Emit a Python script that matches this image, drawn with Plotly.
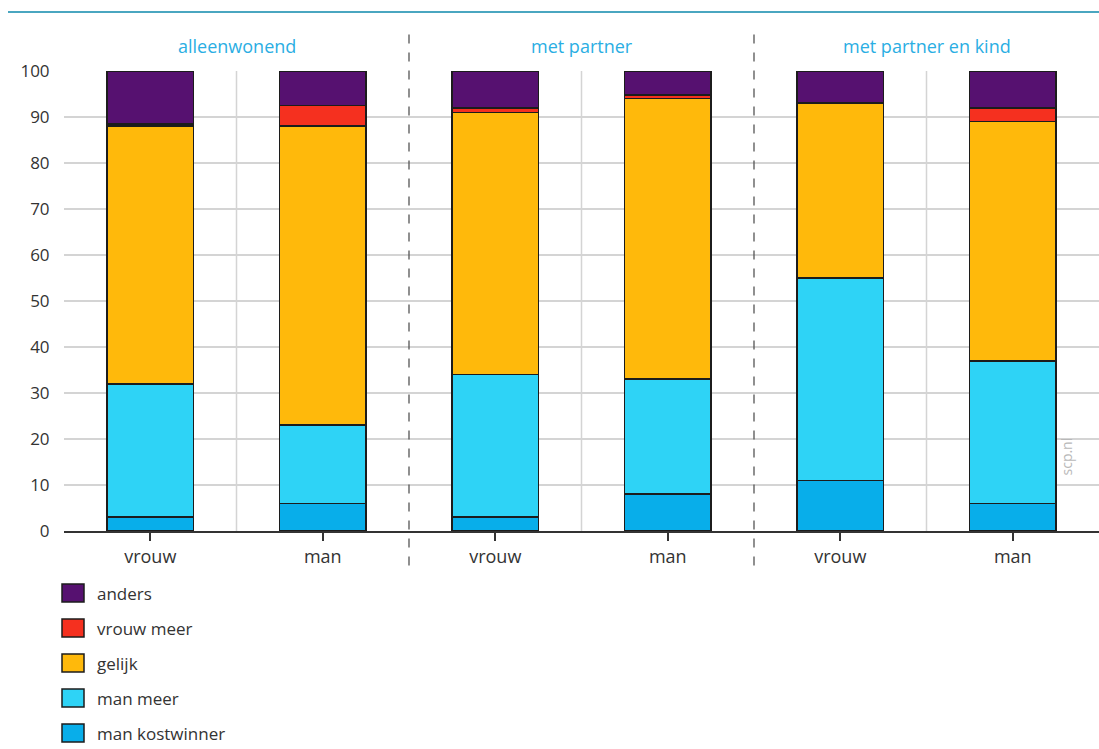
import plotly.graph_objects as go

groups = ["alleenwonend", "met partner", "met partner en kind"]
sexes = ["vrouw", "man"]
categories = ["vrouw", "man", "vrouw", "man", "vrouw", "man"]

series_names = ["man kostwinner", "man meer", "gelijk", "vrouw meer", "anders"]
man_kostwinner = [3, 6, 3, 8, 11, 6]
man_meer = [29, 17, 31, 25, 44, 31]
gelijk = [56, 65, 57, 61, 38, 52]
vrouw_meer = [0.5, 4.5, 1, 0.8, 0, 3]
anders = [11.5, 7.5, 8, 5.2, 7, 8]
series_values = [man_kostwinner, man_meer, gelijk, vrouw_meer, anders]
colors = ["#08aeea", "#2ed3f6", "#ffb90b", "#f5301f", "#561170"]

y_ticks = [0, 10, 20, 30, 40, 50, 60, 70, 80, 90, 100]

FONT = "Open Sans"
TXT = "#333333"

x = list(range(len(categories)))
fig = go.Figure()
for name, vals, col in zip(series_names, series_values, colors):
    fig.add_trace(go.Bar(
        x=x, y=vals, name=name, width=0.5,
        marker=dict(color=col, line=dict(color="#1c1c1c", width=1.5)),
        showlegend=False,
    ))

shapes = []
# vertical light grid lines between the bars inside each group
for gx in [0.5, 2.5, 4.5]:
    shapes.append(dict(type="line", xref="x", yref="y", x0=gx, x1=gx, y0=0, y1=100,
                       line=dict(color="#d4d4d4", width=1.5), layer="below"))
# dashed separators between groups
for sx in [1.5, 3.5]:
    shapes.append(dict(type="line", xref="x", yref="paper", x0=sx, x1=sx, y0=-0.075, y1=1.09,
                       line=dict(color="#555555", width=1.3, dash="dash")))
# top rule
shapes.append(dict(type="line", xref="paper", yref="paper", x0=(8 - 64) / 1035, x1=1.0,
                   y0=(531 - 12) / 460, y1=(531 - 12) / 460,
                   line=dict(color="#4aa6c0", width=2)))

annotations = []
for i, g in enumerate(groups):
    annotations.append(dict(x=2 * i + 0.5, y=(531 - 46) / 460, xref="x", yref="paper", text=g,
                            showarrow=False, font=dict(family=FONT, size=18, color="#2aaee3"),
                            xanchor="center", yanchor="middle"))
# legend built manually (top item = last series)
leg_y0 = 593
for k, (name, col) in enumerate(zip(series_names[::-1], colors[::-1])):
    yc = leg_y0 + 35 * k
    shapes.append(dict(type="rect", xref="paper", yref="paper",
                       x0=(62 - 64) / 1035, x1=(84 - 64) / 1035,
                       y0=(531 - (yc + 9)) / 460, y1=(531 - (yc - 9)) / 460,
                       fillcolor=col, line=dict(color="#1c1c1c", width=1.5)))
    annotations.append(dict(x=(95 - 64) / 1035, y=(531 - yc) / 460, xref="paper", yref="paper",
                            text=name, showarrow=False, xanchor="left", yanchor="middle",
                            font=dict(family=FONT, size=17, color=TXT)))
annotations.append(dict(x=(1077 - 64) / 1035, y=(531 - 478) / 460, xref="paper", yref="paper",
                        text="scp.nl", showarrow=False, textangle=-90,
                        font=dict(family=FONT, size=14, color="#b8b8b8")))

fig.update_layout(
    width=1099, height=749,
    margin=dict(l=64, r=0, t=71, b=218),
    paper_bgcolor="white", plot_bgcolor="white",
    barmode="stack", bargap=0.5,
    font=dict(family=FONT, color=TXT),
    shapes=shapes, annotations=annotations,
    xaxis=dict(range=[-0.5, 5.5], tickvals=x, ticktext=categories,
               showgrid=False, zeroline=False, showline=True, linecolor="#333333", linewidth=2,
               ticks="outside", ticklen=8, tickwidth=2, tickcolor="#333333",
               tickfont=dict(family=FONT, size=18, color=TXT), fixedrange=True),
    yaxis=dict(range=[0, 100], tickvals=y_ticks, showgrid=True, gridcolor="#d4d4d4", gridwidth=1.5,
               zeroline=False, ticks="outside", ticklen=10, tickcolor="rgba(0,0,0,0)",
               tickfont=dict(family=FONT, size=17, color=TXT), fixedrange=True),
)

fig.write_html("out.html")
